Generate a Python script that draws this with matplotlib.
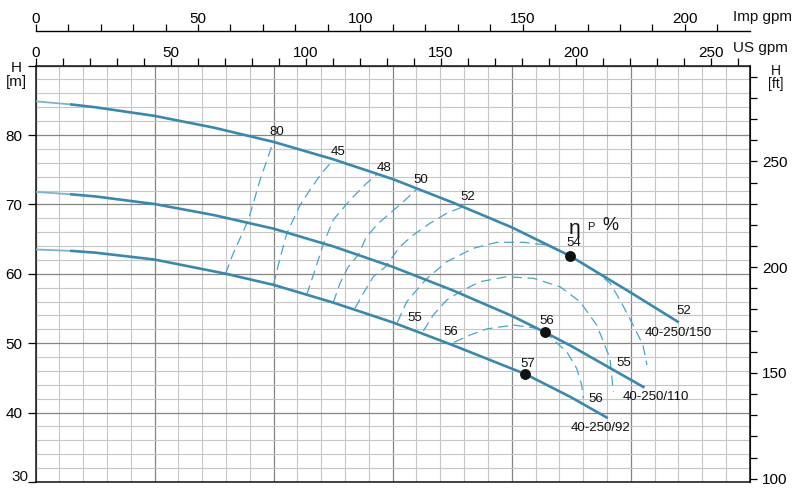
import numpy as np
import matplotlib.pyplot as plt
from matplotlib.ticker import MultipleLocator, FuncFormatter

plt.rcParams['font.family'] = ['Liberation Sans', 'DejaVu Sans']

# pump curves, Q in m3/h, H in m
q_150 = [0, 3, 5, 10, 15, 20, 25, 30, 35, 40, 44.92, 50, 53.95]
h_150 = [84.85, 84.4, 84.0, 82.75, 81.05, 79.0, 76.5, 73.65, 70.3, 66.7, 62.56, 57.3, 53.1]
q_110 = [0, 3, 5, 10, 15, 20, 25, 30, 35, 40, 42.8, 45, 51.06]
h_110 = [71.8, 71.45, 71.15, 70.05, 68.45, 66.5, 63.95, 61.0, 57.65, 53.95, 51.57, 49.6, 43.7]
q_92 = [0, 3, 5, 10, 16, 20, 25, 30, 35, 41.14, 45, 47.98]
h_92 = [63.5, 63.3, 63.05, 62.05, 60.0, 58.4, 55.85, 53.0, 49.75, 45.56, 42.2, 39.3]

# best efficiency points
bep_q = [44.92, 42.8, 41.14]
bep_h = [62.56, 51.57, 45.56]

# iso-efficiency lines
eff_lines = {
    '80': ([15.95, 16.6, 17.87, 18.85, 19.97], [60.0, 62.95, 67.75, 73.5, 79.03]),
    '45': ([19.97, 20.5, 21.1, 22.2, 23.05, 24.03, 25.0], [58.39, 62.0, 65.8, 69.85, 72.1, 74.5, 76.4]),
    '48': ([22.77, 23.47, 24.17, 25.0, 26.4, 27.8, 28.8], [56.95, 60.55, 64.3, 67.75, 70.6, 73.04, 74.48]),
    '50': ([25.0, 25.57, 26.27, 27.1, 27.8, 28.8, 29.77, 30.9, 32.0],
           [55.84, 58.63, 61.02, 62.72, 65.35, 67.28, 68.72, 70.39, 72.18]),
    '52': ([26.83, 27.53, 28.37, 29.35, 30.61, 31.73, 33.13, 34.54, 35.93],
           [55.03, 57.19, 59.58, 60.94, 63.9, 65.59, 67.28, 68.72, 69.67]),
    '54': ([30.39, 31.18, 32.02, 32.86, 34.54, 36.77, 38.74, 40.97, 42.94, 44.92, 46.83, 48.26, 49.1, 50.2, 51.03, 51.37],
           [53.01, 55.98, 57.67, 59.3, 61.74, 63.67, 64.54, 64.54, 64.15, 62.56, 60.55, 58.67, 56.22, 52.62, 49.74, 46.86]),
    '55': ([32.57, 33.41, 34.54, 35.66, 37.34, 39.58, 41.82, 44.06, 45.74, 47.14, 48.26, 48.54],
           [51.76, 54.06, 56.22, 57.42, 58.86, 59.58, 59.35, 58.14, 55.98, 52.62, 47.82, 43.01]),
    '56': ([35.15, 36.5, 37.9, 40.13, 42.1, 42.8, 44.62, 45.46, 45.88, 46.02],
           [50.13, 51.18, 52.05, 52.62, 52.15, 51.57, 48.78, 46.38, 43.98, 42.06]),
}

W, H = 803, 488
solid = '#3a89ad'
dash = '#48a5c8'

fig = plt.figure(figsize=(W / 100, H / 100), dpi=100)
ax = fig.add_axes([35.7 / W, 6 / H, 714 / W, 416.4 / H])
ax.set_xlim(0, 60)
ax.set_ylim(30, 90)

ax.set_xticks(np.arange(0, 61, 10))
ax.set_xticks(np.arange(0, 61, 2), minor=True)
ax.set_yticks(np.arange(30, 91, 10))
ax.set_yticks(np.arange(30, 91, 2), minor=True)
ax.grid(which='minor', color='#c6c6c6', lw=0.8)
ax.grid(which='major', color='#858585', lw=0.9)
ax.set_axisbelow(True)
ax.tick_params(axis='x', which='both', bottom=False, labelbottom=False, top=False)
ax.tick_params(axis='y', which='minor', length=0)
ax.tick_params(axis='y', which='major', direction='out', length=6, width=0.9, pad=3.5, labelsize=11)
ax.yaxis.set_major_formatter(FuncFormatter(lambda v, p: '' if v > 85 or v < 35 else f'{v:.0f}'))
for s in ax.spines.values():
    s.set_linewidth(1.1)
    s.set_color('#111111')

# top US gpm axis
us = ax.secondary_xaxis('top', functions=(lambda q: q * 4.40287, lambda g: g / 4.40287))
us.xaxis.set_major_locator(MultipleLocator(10))
us.xaxis.set_major_formatter(FuncFormatter(lambda v, p: f'{v:.0f}' if round(v) % 50 == 0 else ''))
us.tick_params(direction='out', length=6, width=0.9, pad=-2, labelsize=11)

# Imp gpm axis
imp = ax.secondary_xaxis(1.084, functions=(lambda q: q * 3.66615, lambda g: g / 3.66615))
imp.xaxis.set_major_locator(MultipleLocator(10))
imp.xaxis.set_major_formatter(FuncFormatter(lambda v, p: f'{v:.0f}' if round(v) % 50 == 0 else ''))
imp.tick_params(direction='out', length=5, width=0.9, pad=-1.5, labelsize=11)
imp.spines['top'].set_linewidth(1.0)

# right feet axis
ft = ax.secondary_yaxis('right', functions=(lambda m: m / 0.3048, lambda f: f * 0.3048))
ft.yaxis.set_major_locator(MultipleLocator(10))
ft.yaxis.set_major_formatter(FuncFormatter(lambda v, p: f'{v:.0f}' if round(v) % 50 == 0 else ''))
ft.tick_params(direction='out', length=5, width=0.9, pad=4, labelsize=11)

# efficiency lines
for key, (qq, hh) in eff_lines.items():
    ax.plot(qq, hh, color=dash, lw=0.9, dashes=(8, 4.5), zorder=3)

# pump curves
for qq, hh in [(q_150, h_150), (q_110, h_110), (q_92, h_92)]:
    ax.plot(qq[:2], hh[:2], color='#7fb3ca', lw=1.3, zorder=4, solid_capstyle='butt')
    ax.plot(qq[1:], hh[1:], color=solid, lw=1.9, zorder=4, solid_joinstyle='round')

ax.plot(bep_q, bep_h, 'o', color='#111111', ms=6.8, zorder=5)


def t(x, y, s, **kw):
    kw.setdefault('fontsize', 9.5)
    kw.setdefault('ha', 'center')
    fig.text(x / W, 1 - y / H, s, va='center', color='#111111', **kw)


t(277, 132, '80')
t(338, 152, '45')
t(384, 168, '48')
t(421, 180, '50')
t(468, 197, '52')
t(574, 243, '54')
t(547, 321, '56')
t(528, 364, '57')
t(415, 318, '55')
t(451, 332, '56')
t(684, 311, '52')
t(678, 333, '40-250/150')
t(624, 363, '55')
t(656, 397, '40-250/110')
t(596, 399, '56')
t(601, 428, '40-250/92')

t(575, 229, 'η', fontsize=15)
t(591, 227, 'P', fontsize=8)
t(610, 225, '%', fontsize=13)

t(28, 477, '30', fontsize=11, ha='right')
t(733, 17, 'Imp gpm', fontsize=11, ha='left')
t(733, 48, 'US gpm', fontsize=11, ha='left')
t(776, 71, 'H', fontsize=10)
t(776, 84, '[ft]', fontsize=10)
t(16, 68, 'H', fontsize=11)
t(16, 82, '[m]', fontsize=11)

fig.savefig('out.png', dpi=100)
